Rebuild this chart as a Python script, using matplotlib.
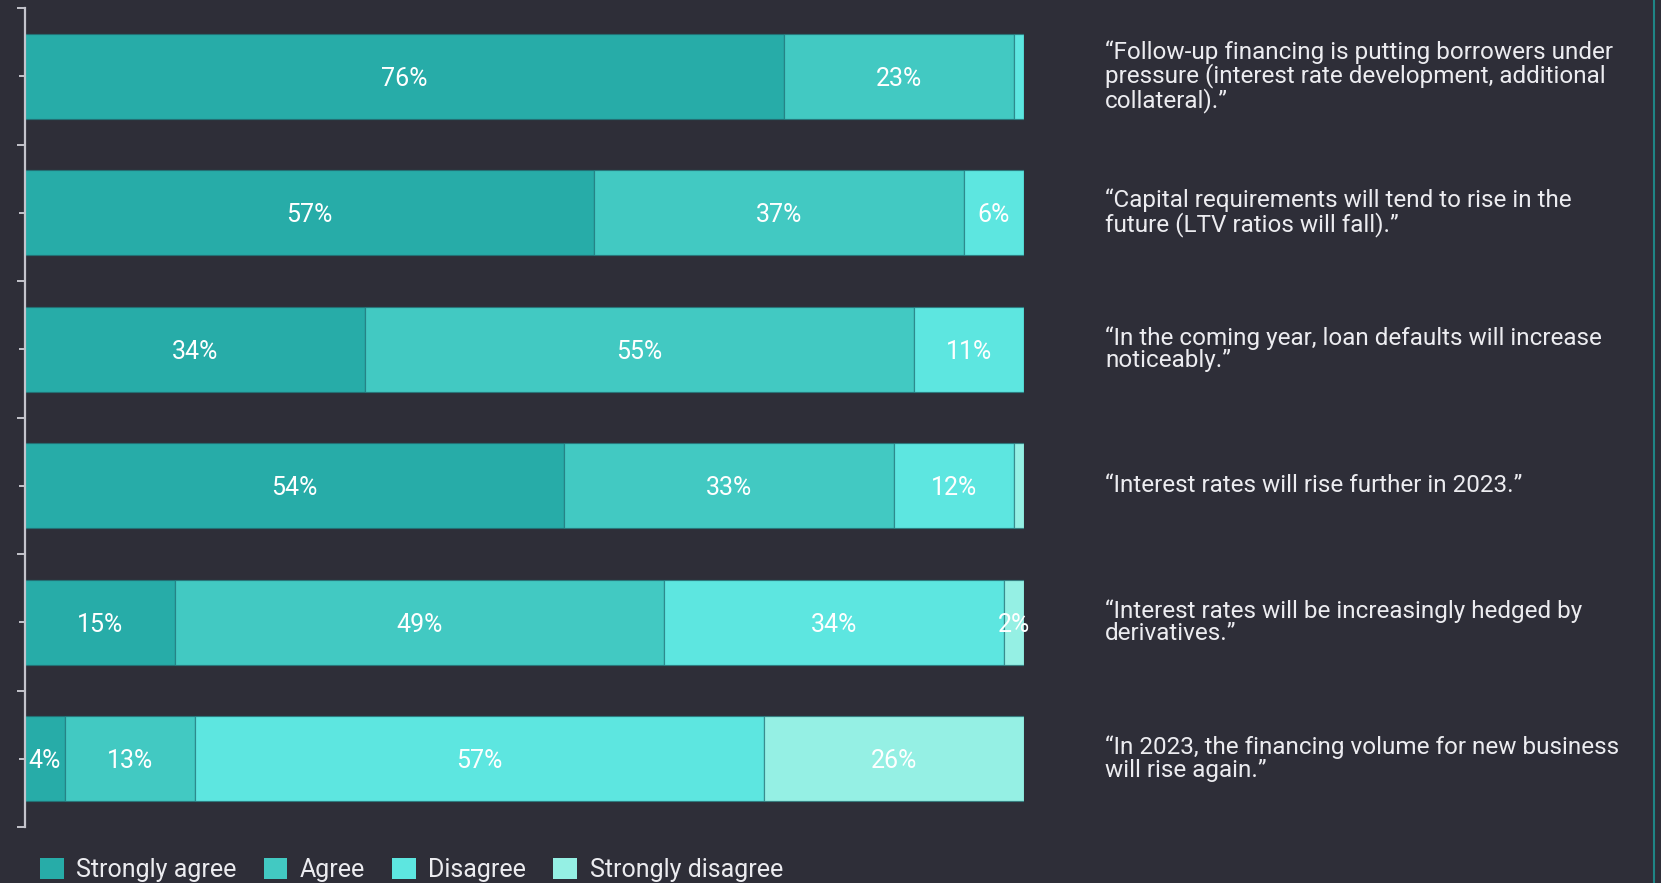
import matplotlib.pyplot as plt
from matplotlib.patches import Patch
from matplotlib.lines import Line2D
import numpy as np

plt.rcParams['font.family'] = ['Roboto', 'DejaVu Sans']

# Survey statements (top to bottom) and answer shares in percent
statements = [
    "“Follow-up financing is putting borrowers under\npressure (interest rate development, additional\ncollateral).”",
    "“Capital requirements will tend to rise in the\nfuture (LTV ratios will fall).”",
    "“In the coming year, loan defaults will increase\nnoticeably.”",
    "“Interest rates will rise further in 2023.”",
    "“Interest rates will be increasingly hedged by\nderivatives.”",
    "“In 2023, the financing volume for new business\nwill rise again.”",
]
strongly_agree = [76, 57, 34, 54, 15, 4]
agree = [23, 37, 55, 33, 49, 13]
disagree = [1, 6, 11, 12, 34, 57]
strongly_disagree = [0, 0, 0, 1, 2, 26]

answers = ["Strongly agree", "Agree", "Disagree", "Strongly disagree"]
colors = ["#27aca8", "#42c9c2", "#5de6e0", "#95f0e4"]
bg = "#2e2e38"

fig = plt.figure(figsize=(16.61, 8.83), dpi=100, facecolor=bg)
ax = fig.add_axes([25 / 1661, 1 - 827 / 883, 999 / 1661, 819 / 883])
ax.set_facecolor(bg)

y = np.arange(len(statements))
series = [strongly_agree, agree, disagree, strongly_disagree]
left = np.zeros(len(statements))
for vals, col in zip(series, colors):
    vals = np.array(vals, dtype=float)
    ax.barh(y, vals, left=left, height=0.62, color=col,
            edgecolor=(0.12, 0.45, 0.47, 0.6), linewidth=0.9)
    for yi, l, v in zip(y, left, vals):
        if v >= 2:
            ax.text(l + v / 2, yi, f"{v:.0f}%", ha="center", va="center_baseline",
                    color="white", fontsize=18)
    left += vals

for yi, s in zip(y, statements):
    ax.text(108.1, yi, s, ha="left", va="center", color="#ececf0",
            fontsize=17.5, linespacing=0.98, clip_on=False)

ax.set_xlim(0, 100)
ax.set_ylim(len(statements) - 0.5, -0.5)
ax.xaxis.set_visible(False)
for side in ["top", "right", "bottom"]:
    ax.spines[side].set_visible(False)
ax.spines["left"].set_color("#c4c4cc")
ax.spines["left"].set_linewidth(1.6)

# long ticks between statements, short ticks at bar centres
ax.set_yticks(np.arange(-0.5, len(statements), 1.0))
ax.set_yticks(y, minor=True)
ax.tick_params(axis="y", which="major", length=6, width=1.4, color="#c4c4cc", labelleft=False)
ax.tick_params(axis="y", which="minor", length=4.2, width=1.4, color="#c4c4cc", labelleft=False)

handles = [Patch(facecolor=c, edgecolor="none") for c in colors]
fig.legend(handles, answers, loc="center left", bbox_to_anchor=(40 / 1661, 1 - 870 / 883),
           ncol=4, frameon=False, fontsize=18, labelcolor="#ececf0",
           borderpad=0, borderaxespad=0,
           handlelength=0.95, handleheight=0.95, handletextpad=0.5, columnspacing=1.08)

# thin accent line at the right edge
fig.add_artist(Line2D([1654 / 1661, 1654 / 1661], [0, 1], color="#1f8585", linewidth=1.5))

fig.savefig("out.png", dpi=100, facecolor=bg)
